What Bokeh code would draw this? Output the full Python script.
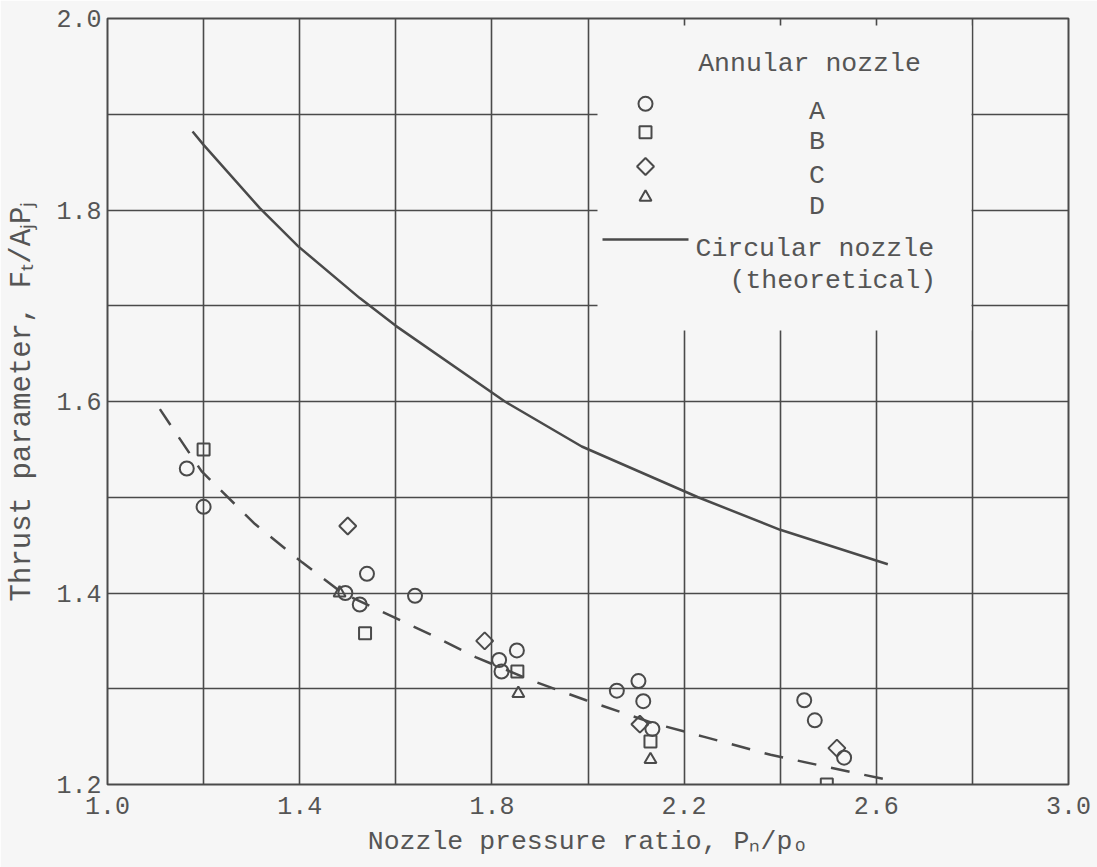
import math

from bokeh.plotting import figure
from bokeh.models import FixedTicker, BoxAnnotation, Label, Range1d, CustomJSTickFormatter
from bokeh.embed import file_html
from bokeh.resources import INLINE

# ---- data -------------------------------------------------------------
# Annular nozzle A
a_ratio = [1.165, 1.20, 1.54, 1.495, 1.525, 1.64, 1.815, 1.82, 1.852,
           2.06, 2.105, 2.115, 2.134, 2.45, 2.472, 2.533]
a_thrust = [1.53, 1.49, 1.42, 1.40, 1.388, 1.397, 1.33, 1.318, 1.34,
            1.298, 1.308, 1.287, 1.258, 1.288, 1.267, 1.228]
# Annular nozzle B
b_ratio = [1.20, 1.536, 1.853, 2.13, 2.497]
b_thrust = [1.55, 1.358, 1.318, 1.245, 1.20]
# Annular nozzle C
c_ratio = [1.50, 1.785, 2.108, 2.518]
c_thrust = [1.47, 1.35, 1.263, 1.238]
# Annular nozzle D
d_ratio = [1.483, 1.855, 2.13]
d_thrust = [1.40, 1.295, 1.226]

# faired curve through the annular-nozzle data
fair_ratio = [1.109, 1.196, 1.307, 1.405, 1.489, 1.565, 1.683, 1.766,
              1.891, 1.996, 2.136, 2.240, 2.380, 2.622]
fair_thrust = [1.592, 1.527, 1.472, 1.432, 1.400, 1.382, 1.354, 1.333,
               1.307, 1.288, 1.264, 1.250, 1.231, 1.205]

# circular nozzle, theoretical
circ_ratio = [1.177, 1.20, 1.317, 1.397, 1.525, 1.60, 1.827, 1.987,
              2.229, 2.40, 2.624]
circ_thrust = [1.882, 1.868, 1.802, 1.762, 1.708, 1.679, 1.60, 1.553,
               1.500, 1.466, 1.43]

x_ticks = [1.0, 1.4, 1.8, 2.2, 2.6, 3.0]
x_labels = ["1.0", "1.4", "1.8", "2.2", "2.6", "3.0"]
x_grid = [1.0, 1.2, 1.4, 1.6, 1.8, 2.0, 2.2, 2.4, 2.6, 2.8, 3.0]
y_ticks = [1.2, 1.4, 1.6, 1.8, 2.0]
y_labels = ["1.2", "1.4", "1.6", "1.8", "2.0"]
y_grid = [1.2, 1.3, 1.4, 1.5, 1.6, 1.7, 1.8, 1.9, 2.0]

legend_names = ["A", "B", "C", "D"]

x_title = "Nozzle pressure ratio, P\u2099/p\u2092"
y_title = "Thrust parameter, F\u209c/A\u2c7cP\u2c7c"

# ---- styling ----------------------------------------------------------
BG = "#f6f6f6"
INK = "#4a4a4a"
TXT = "#555555"
FONT = "Liberation Mono"

X0, X1 = 1.0, 3.0
Y0, Y1 = 1.2, 2.0
W, H = 1097, 867
FRAME_L, FRAME_T = 107, 18
FRAME_R, FRAME_B = 1068, 784


def dx(px):
    """page pixel column -> data x"""
    return X0 + (px - FRAME_L) / (FRAME_R - FRAME_L) * (X1 - X0)


def dy(py):
    """page pixel row -> data y"""
    return Y1 - (py - FRAME_T) / (FRAME_B - FRAME_T) * (Y1 - Y0)


p = figure(width=W, height=H, output_backend="svg", toolbar_location=None,
           x_range=Range1d(X0, X1), y_range=Range1d(Y0, Y1),
           min_border_left=FRAME_L, min_border_right=W - FRAME_R,
           min_border_top=FRAME_T, min_border_bottom=H - FRAME_B)
p.background_fill_color = BG
p.border_fill_color = BG
p.outline_line_color = INK
p.outline_line_width = 2

fmt_code = """
let best = 0;
for (let i = 0; i < tick_values.length; i++) {
  if (Math.abs(tick_values[i] - tick) < Math.abs(tick_values[best] - tick)) best = i;
}
return tick_labels[best];
"""

axis_setup = ((p.xaxis[0], x_ticks, x_labels, 12, x_title, "26.5px", 10),
              (p.yaxis[0], y_ticks, y_labels, 6, y_title, "29px", 14))
for ax, ticks, labels, standoff, title, title_size, title_standoff in axis_setup:
    ax.ticker = FixedTicker(ticks=ticks)
    ax.formatter = CustomJSTickFormatter(args=dict(tick_values=ticks, tick_labels=labels),
                                         code=fmt_code)
    ax.major_tick_in = 0
    ax.major_tick_out = 0
    ax.minor_tick_line_color = None
    ax.axis_line_color = None
    ax.major_label_text_font = FONT
    ax.major_label_text_font_size = "25px"
    ax.major_label_text_color = TXT
    ax.major_label_standoff = standoff
    ax.axis_label = title
    ax.axis_label_text_font = FONT
    ax.axis_label_text_font_size = title_size
    ax.axis_label_text_font_style = "normal"
    ax.axis_label_text_color = TXT
    ax.axis_label_standoff = title_standoff

p.xgrid.ticker = FixedTicker(ticks=x_grid)
p.ygrid.ticker = FixedTicker(ticks=y_grid)
for g in (p.xgrid[0], p.ygrid[0]):
    g.grid_line_color = INK
    g.grid_line_width = 1.6

# blank panel behind the key
p.add_layout(BoxAnnotation(left=dx(597), right=dx(971), top=dy(25), bottom=dy(330),
                           fill_color=BG, fill_alpha=1.0, line_color=None,
                           level="underlay"))

# ---- curves -----------------------------------------------------------
p.line(circ_ratio, circ_thrust, line_color=INK, line_width=2.5)
p.line(fair_ratio, fair_thrust, line_color=INK, line_width=2.5, line_dash="19 15")

# ---- symbols ----------------------------------------------------------
mk = dict(fill_color=None, line_color=INK, line_width=2)
p.scatter(a_ratio, a_thrust, marker="circle", size=14, **mk)
p.scatter(b_ratio, b_thrust, marker="square", size=12, **mk)
p.scatter(c_ratio, c_thrust, marker="square", size=12, angle=math.pi / 4, **mk)
p.scatter(d_ratio, d_thrust, marker="triangle", size=12, **mk)


# ---- key --------------------------------------------------------------
def text(s, px, py, size="26.5px", align="left"):
    p.add_layout(Label(x=dx(px), y=dy(py), text=s, text_font=FONT,
                       text_font_size=size, text_color=TXT, text_align=align,
                       text_baseline="alphabetic"))


text("Annular nozzle", 809, 63, align="center")
key_rows = [(103.3, 111.0), (131.7, 141.7), (166.0, 175.0), (196.7, 206.7)]
key_marks = [dict(marker="circle", size=14),
             dict(marker="square", size=12),
             dict(marker="square", size=12, angle=math.pi / 4),
             dict(marker="triangle", size=12)]
for name, (my, ty), m in zip(legend_names, key_rows, key_marks):
    p.scatter([dx(645)], [dy(my)], **m, **mk)
    text(name, 816.5, ty, align="center")

p.line([dx(602), dx(688)], [dy(239), dy(239)], line_color=INK, line_width=2.5)
text("Circular nozzle", 695, 248.3)
text("(theoretical)", 729, 280)

open("out.html", "w").write(file_html(p, INLINE))
